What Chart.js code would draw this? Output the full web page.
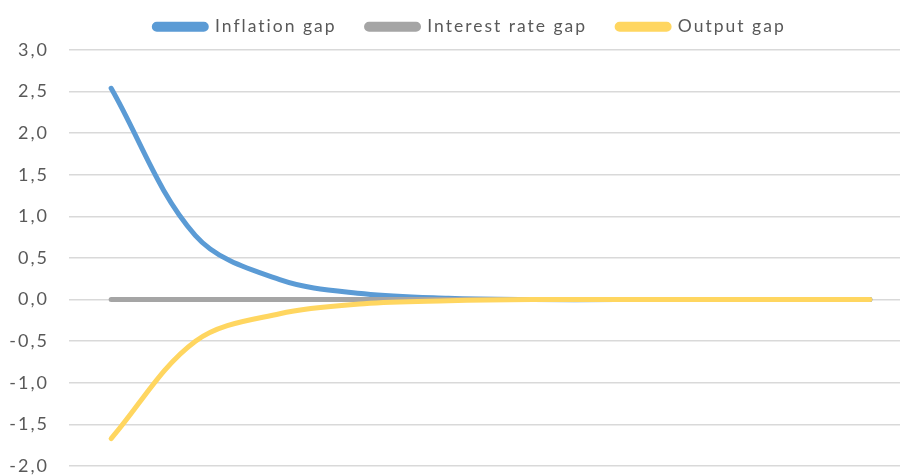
<!DOCTYPE html>
<html>
<head>
<meta charset="utf-8">
<script src="https://cdn.jsdelivr.net/npm/chart.js@4/dist/chart.umd.min.js"></script>
<style>
  html, body { margin: 0; padding: 0; background: #fff; overflow: hidden; width: 900px; height: 475px; }
  canvas { display: block; }
</style>
</head>
<body>
<canvas id="chart" width="940" height="475"></canvas>
<script>
// Periods after the shock
const periods = ['1', '2', '3', '4', '5', '6', '7', '8', '9', '10'];

// Gap series
const inflationGap    = [2.54, 0.77, 0.24, 0.07, 0.015, 0.0, 0.0, 0.0, 0.0, 0.0];
const interestRateGap = [0.0, 0.0, 0.0, 0.0, 0.0, 0.0, 0.0, 0.0, 0.0, 0.0];
const outputGap       = [-1.67, -0.50, -0.17, -0.05, -0.015, 0.0, 0.0, 0.0, 0.0, 0.0];

// Value axis ticks
const yTicks = [-2.0, -1.5, -1.0, -0.5, 0.0, 0.5, 1.0, 1.5, 2.0, 2.5, 3.0];

const TEXT_COLOR = '#595959';
const FONT_FAMILY = 'Lato, "Open Sans", sans-serif';
const LETTER_SPACING = '2px';

// Wider tracking for all canvas text
const tracking = {
  id: 'tracking',
  beforeUpdate(chart) { chart.ctx.letterSpacing = LETTER_SPACING; },
  beforeDraw(chart) { chart.ctx.letterSpacing = LETTER_SPACING; }
};

// Fixed legend band height; legend items raised and centred over the plot
const legendBand = {
  id: 'legendBand',
  beforeLayout(chart) {
    const lg = chart.legend;
    if (lg && !lg._bandPatched) {
      const fit = lg.fit.bind(lg);
      lg.fit = function () { fit(); this.height = 50; };
      lg._bandPatched = true;
    }
  },
  afterLayout(chart) {
    const lg = chart.legend;
    if (lg) {
      lg.top -= 12; lg.bottom -= 12;
      lg.left += 14; lg.right += 14;
    }
  }
};

const fmt = v => v.toFixed(1).replace('.', ',');

new Chart(document.getElementById('chart'), {
  type: 'line',
  data: {
    labels: periods,
    datasets: [
      { label: 'Inflation gap', data: inflationGap, borderColor: '#5b9bd5', backgroundColor: '#5b9bd5', order: 2 },
      { label: 'Interest rate gap', data: interestRateGap, borderColor: '#a5a5a5', backgroundColor: '#a5a5a5', order: 1 },
      { label: 'Output gap', data: outputGap, borderColor: '#ffd660', backgroundColor: '#ffd660', order: 0 }
    ]
  },
  options: {
    responsive: false,
    animation: false,
    devicePixelRatio: 1,
    layout: { padding: { left: 0, right: 28, top: 0, bottom: 9 } },
    elements: {
      line: { borderWidth: 5, tension: 0.35, borderCapStyle: 'round', borderJoinStyle: 'round', fill: false },
      point: { radius: 0, hoverRadius: 0 }
    },
    plugins: {
      tooltip: { enabled: false },
      legend: {
        position: 'top',
        align: 'center',
        labels: {
          color: TEXT_COLOR,
          font: { family: FONT_FAMILY, size: 17.5 },
          boxWidth: 52,
          boxHeight: 5,
          padding: 30,
          useBorderRadius: true,
          borderRadius: 2.5,
          sort: (a, b) => a.datasetIndex - b.datasetIndex
        }
      }
    },
    scales: {
      x: {
        type: 'category',
        display: false,
        offset: true
      },
      y: {
        min: -2,
        max: 3,
        afterFit(scale) { scale.width = 69; scale.paddingTop = 0; scale.paddingBottom = 0; },
        afterBuildTicks(scale) { scale.ticks = yTicks.map(v => ({ value: v })); },
        border: { display: false },
        grid: { color: '#d9d9d9', lineWidth: 1.5, drawTicks: false },
        ticks: {
          color: TEXT_COLOR,
          font: { family: FONT_FAMILY, size: 18 },
          padding: 20,
          callback: v => fmt(v)
        }
      }
    }
  },
  plugins: [tracking, legendBand]
});
</script>
</body>
</html>
